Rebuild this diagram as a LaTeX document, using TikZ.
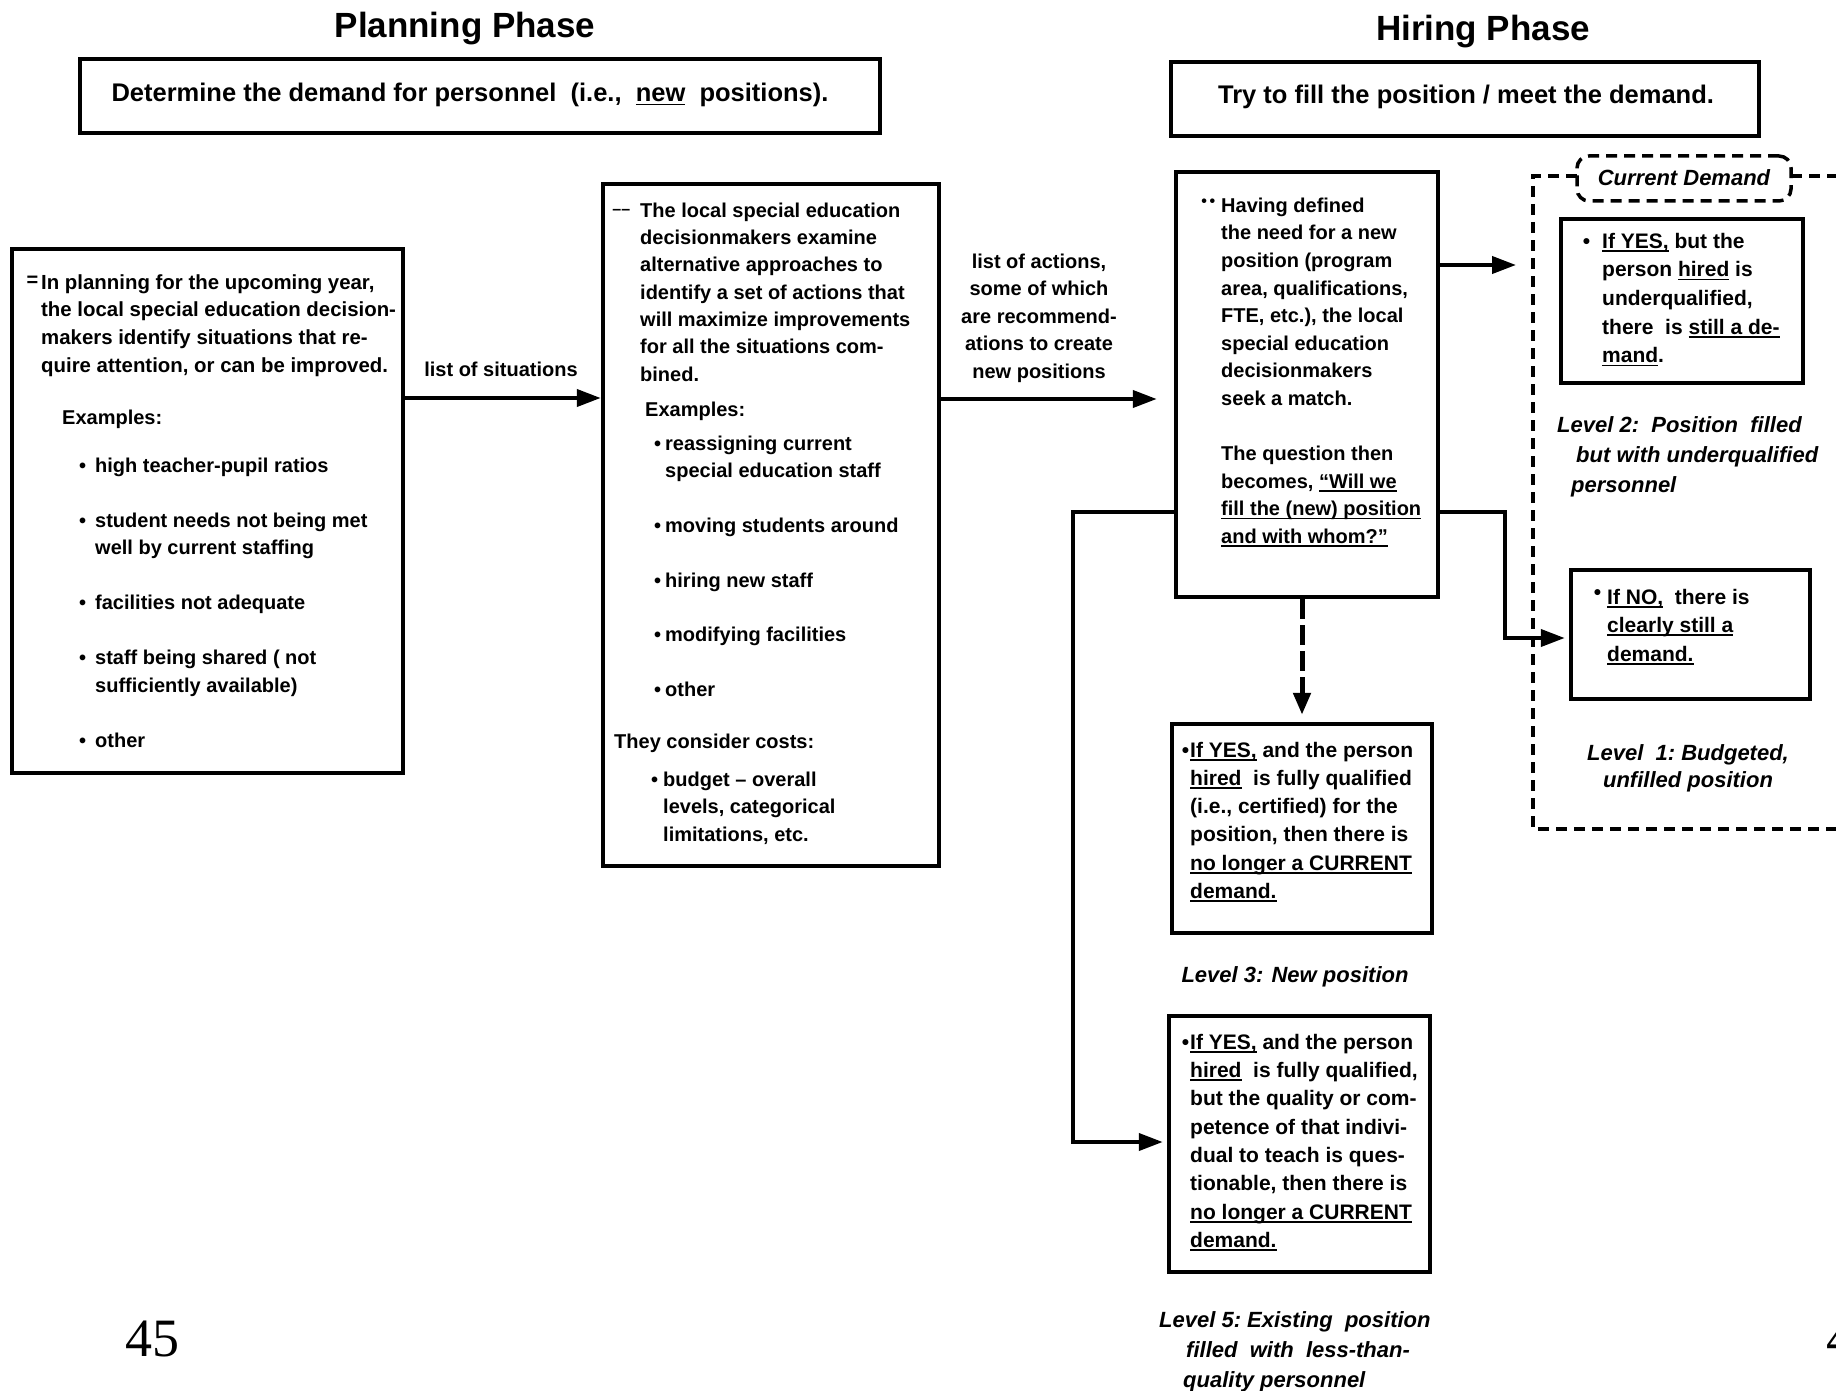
\documentclass[tikz,border=0pt]{standalone}
\usepackage{fontspec}
\setmainfont{Liberation Sans}
\newfontfamily\serifnum{Liberation Serif}
\usetikzlibrary{arrows.meta}
\newcommand{\ulx}[1]{\setbox0\hbox{#1}\rlap{\rule[-3.5pt]{\wd0}{1.8pt}}\box0\relax}
\newcommand{\bul}[1]{\llap{•\hspace{#1}}}
\begin{document}
\begin{tikzpicture}[x=1pt,y=-1pt,
  bx/.style={draw, line width=4.5pt, rectangle, inner sep=0pt},
  tx/.style={anchor=north west, inner sep=0pt, align=left},
  one/.style={inner sep=0pt, font=\fontsize{20}{27.5}\selectfont\bfseries},
  ttl/.style={inner sep=0pt, anchor=base, font=\fontsize{35}{40}\selectfont\bfseries},
  hdr/.style={inner sep=0pt, anchor=base, font=\fontsize{25.5}{30}\selectfont\bfseries},
  capt/.style={inner sep=0pt, font=\fontsize{22}{30}\selectfont\bfseries\itshape},
  arr/.style={line width=4pt, -{Triangle[length=24pt,width=17pt]}},
  darr/.style={line width=5pt, dash pattern=on 20pt off 6pt, -{Triangle[length=22pt,width=17pt]}},
  dsh/.style={line width=3.5pt, dash pattern=on 11pt off 7pt}]
\useasboundingbox (0,0) rectangle (1836,1391);
\fill[white] (0,0) rectangle (1836,1391);

% titles and phase boxes
\node[ttl] (tP) at (465,38) {Planning Phase};
\node[ttl] (tH) at (1483,41) {Hiring Phase};
\node[bx, minimum width=800pt, minimum height=74pt] (PB) at (480,96) {};
\node[hdr] (PBt) at (470,102) {Determine the demand for personnel\ \ (i.e.,\ \ \ulx{new}\ \ positions).};
\node[bx, minimum width=588pt, minimum height=74pt] (HB) at (1465,99) {};
\node[hdr] (HBt) at (1466,104) {Try to fill the position / meet the demand.};

% box A
\node[bx, minimum width=391pt, minimum height=524pt] (A) at (207.5,511) {};
\node[tx, font=\fontsize{20.4}{27.6}\selectfont\bfseries] (A1) at (41,269.7) {\strut\llap{\raisebox{3pt}{\fontsize{20}{20}\selectfont =}\hspace{3pt}}In planning for the upcoming year,\\ the local special education decision-\\ makers identify situations that re-\\ quire attention, or can be improved.};
\node[one, anchor=base west] (A2) at (62,424) {Examples:};
\node[tx, font=\fontsize{20}{27.5}\selectfont\bfseries] (A3) at (95,452.75) {\strut\bul{9pt}high teacher-pupil ratios\\[27.5pt] \bul{9pt}student needs not being met\\ well by current staffing\\[27.5pt] \bul{9pt}facilities not adequate\\[27.5pt] \bul{9pt}staff being shared ( not\\ sufficiently available)\\[27.5pt] \bul{9pt}other};

% box B
\node[bx, minimum width=336pt, minimum height=682pt] (B) at (771,525) {};
\node[tx, font=\fontsize{20}{27.3}\selectfont\bfseries] (B1) at (640,197.9) {\strut\llap{\raisebox{3pt}{\fontsize{16}{16}\selectfont ––}\hspace{10pt}}The local special education\\ decisionmakers examine\\ alternative approaches to\\ identify a set of actions that\\ will maximize improvements\\ for all the situations com-\\ bined.};
\node[one, anchor=base west] (B2) at (645,416) {Examples:};
\node[tx, font=\fontsize{20}{27.4}\selectfont\bfseries] (B3) at (665,430.8) {\strut\bul{4pt}reassigning current\\ special education staff\\[27.4pt] \bul{4pt}moving students around\\[27.4pt] \bul{4pt}hiring new staff\\[27.4pt] \bul{4pt}modifying facilities\\[27.4pt] \bul{4pt}other};
\node[one, anchor=base west] (B4) at (614,748) {They consider costs:};
\node[tx, font=\fontsize{20}{27.5}\selectfont\bfseries] (B5) at (663,766.75) {\strut\bul{5pt}budget – overall\\ levels, categorical\\ limitations, etc.};

% box C
\node[bx, minimum width=262pt, minimum height=425pt] (C) at (1307,384.5) {};
\node[tx, font=\fontsize{20}{27.6}\selectfont\bfseries] (C1) at (1221,192.7) {\strut\llap{\raisebox{6pt}{\fontsize{16}{16}\selectfont •\,•}\hspace{6pt}}Having defined\\ the need for a new\\ position (program\\ area, qualifications,\\ FTE, etc.), the local\\ special education\\ decisionmakers\\ seek a match.\\[27.6pt] The question then\\ becomes, \ulx{“Will we}\\ \ulx{fill the (new) position}\\ \ulx{and with whom?”}};

% connector labels
\node[one, anchor=base] (lAB) at (501,376) {list of situations};
\node[tx, anchor=north, align=center, font=\fontsize{20}{27.5}\selectfont\bfseries] (lBC) at (1039,248.75) {\strut list of actions,\\ some of which\\ are recommend-\\ ations to create\\ new positions};

% current demand container
\draw[dsh] (1577,176) -- (1533,176) -- (1533,829) -- (1850,829);
\draw[dsh] (1791,176) -- (1850,176);
\node[draw, dsh, rounded corners=12pt, minimum width=214pt, minimum height=45pt, inner sep=0pt] (TAG) at (1684,178.5) {};
\node[capt, anchor=base] (TAGt) at (1684,186) {Current Demand};

% level 2 box
\node[bx, minimum width=242pt, minimum height=164pt] (D1) at (1682,301) {};
\node[tx, font=\fontsize{21}{28.7}\selectfont\bfseries] (D1t) at (1602,227.9) {\strut\bul{12pt}\ulx{If YES,} but the\\ person \ulx{hired} is\\ underqualified,\\ there\ \ is \ulx{still a de-}\\ \ulx{mand}.};
\node[capt, tx] (L2c) at (1557,416) {Level 2:\ \ Position\ \ filled\\ \hspace*{19pt}but with underqualified\\ \hspace*{14pt}personnel};

% level 1 box
\node[bx, minimum width=239pt, minimum height=129pt] (D2) at (1690.5,634.5) {};
\node[tx, font=\fontsize{21}{28.5}\selectfont\bfseries] (D2t) at (1607,584) {\strut\llap{\raisebox{5pt}{•}\hspace{6pt}}\ulx{If NO,}\ \ there is\\ \ulx{clearly still a}\\ \ulx{demand.}};
\node[capt, tx, anchor=north, align=center, font=\fontsize{22}{27}\selectfont\bfseries\itshape] (L1c) at (1688,741.1) {\strut Level\ \ 1:\ Budgeted,\\ unfilled position};

% level 3 box
\node[bx, minimum width=260pt, minimum height=209pt] (L3) at (1302,828.5) {};
\node[tx, font=\fontsize{21}{28.2}\selectfont\bfseries] (L3t) at (1190,737.3) {\strut\bul{1pt}\ulx{If YES,} and the person\\ \ulx{hired}\ \ is fully qualified\\ (i.e., certified) for the\\ position, then there is\\ \ulx{no longer a CURRENT}\\ \ulx{demand.}};
\node[capt, anchor=base] (L3c) at (1295,982) {Level 3: New position};

% level 5 box
\node[bx, minimum width=261pt, minimum height=256pt] (L5) at (1299.5,1144) {};
\node[tx, font=\fontsize{21}{28.3}\selectfont\bfseries] (L5t) at (1190,1029.2) {\strut\bul{1pt}\ulx{If YES,} and the person\\ \ulx{hired}\ \ is fully qualified,\\ but the quality or com-\\ petence of that indivi-\\ dual to teach is ques-\\ tionable, then there is\\ \ulx{no longer a CURRENT}\\ \ulx{demand.}};
\node[capt, tx] (L5c) at (1159,1311) {Level 5:\ Existing\ \ position\\ \hspace*{27pt}filled\ \ with\ \ less-than-\\ \hspace*{24pt}quality personnel};

% connectors
\coordinate (cdA) at (1516,265);
\draw[arr] (A.east |- 0,398) -- (B.west |- 0,398);
\draw[arr, shorten >=17pt] (B.east |- 0,399) -- (C.west |- 0,399);
\draw[arr] (C.east |- 0,265) -- (cdA);
\draw[arr, shorten >=4pt] (C.east |- 0,512) -- ++(65,0) |- (D2.west |- 0,638);
\draw[arr, shorten >=4pt] (C.west |- 0,512) -- ++(-101,0) |- (L5.west |- 0,1142);
\draw[darr, shorten >=7pt] (C.south -| L3.north) -- (L3.north);

% page numbers
\node[inner sep=0pt, anchor=base, font=\serifnum\fontsize{54}{60}\selectfont] (pg) at (152,1356) {45};
\node[inner sep=0pt, anchor=base west, font=\serifnum\fontsize{54}{60}\selectfont] (pg2) at (1826,1356) {4};
\end{tikzpicture}
\end{document}
